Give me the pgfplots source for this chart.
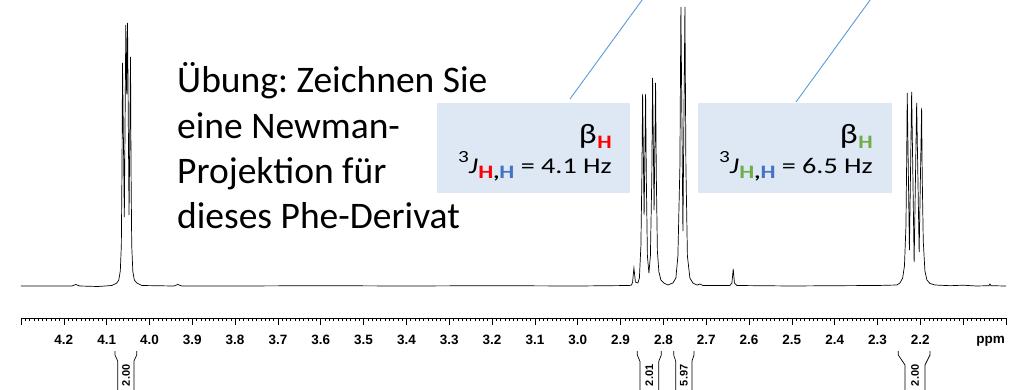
\documentclass[border=0pt]{standalone}
\usepackage{pgfplots}
\pgfplotsset{compat=1.18}
\usepackage{fontspec}
\setmainfont{Carlito}
\newfontfamily\tickfont{Liberation Sans}
\definecolor{boxfill}{RGB}{221,232,244}
\definecolor{lineblue}{RGB}{91,155,213}
\definecolor{hred}{RGB}{255,0,0}
\definecolor{hblue}{RGB}{68,114,196}
\definecolor{hgreen}{RGB}{112,173,71}
\frenchspacing
\newcommand{\sub}[1]{\raisebox{-5.5pt}{\fontsize{19}{20}\selectfont\bfseries #1}}
\begin{document}
\begin{tikzpicture}
\useasboundingbox (0,0) rectangle (1020pt,389pt);
% annotation boxes (behind spectrum)
\begin{scope}[x=1pt,y=-1pt,shift={(0pt,389pt)}]
\fill[boxfill] (437,103) rectangle (630,193);
\fill[boxfill] (698,103) rectangle (892,193);
\end{scope}
\begin{axis}[
  at={(21pt,71pt)}, anchor=south west,
  scale only axis, width=985pt, height=318pt,
  x dir=reverse, xmin=2.0, xmax=4.3, ymin=-32, ymax=286,
  axis x line=bottom, axis y line=none,
  axis line style={-, black, line width=0.8pt},
  xtick={4.3,4.2,4.1,4.0,3.9,3.8,3.7,3.6,3.5,3.4,3.3,3.2,3.1,3.0,2.9,2.8,2.7,2.6,2.5,2.4,2.3,2.2,2.1,2.0},
  xticklabels={,4.2,4.1,4.0,3.9,3.8,3.7,3.6,3.5,3.4,3.3,3.2,3.1,3.0,2.9,2.8,2.7,2.6,2.5,2.4,2.3,2.2,,},
  minor x tick num=9,
  tick align=outside, major tick length=7pt, minor tick length=3pt,
  every tick/.style={black, line width=0.6pt},
  xticklabel style={font=\tickfont\bfseries\fontsize{13.5}{15}\selectfont, anchor=north, yshift=-7pt},
  clip=false,
]
\addplot[black, line width=0.7pt, sharp plot] coordinates {
(4.300,0) (4.1813,0) (4.1720,1.5) (4.1626,0) (4.1200,-0.5) (4.0879,0.5)
(4.0762,3) (4.0716,6) (4.0681,15) (4.0657,40) (4.0641,120) (4.0629,223)
(4.0587,69) (4.0552,261) (4.0533,192) (4.0512,263) (4.0477,71) (4.0442,229)
(4.0431,120) (4.0414,40) (4.0389,15) (4.0354,6) (4.0295,3) (4.0178,0.5)
(3.9431,0) (3.9338,1.5) (3.9244,0) (3.8000,0) (3.6000,0.3) (3.4000,0) (3.2000,0.3) (3.0000,0)
(2.8800,0.5) (2.8742,1) (2.8719,4) (2.8688,18) (2.8653,4) (2.8595,3)
(2.8560,8) (2.8525,40) (2.8502,110) (2.8485,192) (2.8450,71) (2.8415,192)
(2.8399,110) (2.8373,30) (2.8338,13) (2.8303,30) (2.8270,110) (2.8252,208)
(2.8217,76) (2.8182,203) (2.8165,110) (2.8140,35) (2.8105,14) (2.8058,6)
(2.7988,3) (2.7894,1) (2.7778,3) (2.7708,8) (2.7661,30) (2.7614,120)
(2.7591,279) (2.7544,55) (2.7497,279) (2.7474,120) (2.7439,30) (2.7381,8)
(2.7311,3) (2.7217,1) (2.7147,2) (2.7077,0.5) (2.6447,0.5) (2.6400,3)
(2.6369,17) (2.6341,3) (2.6283,0.5) (2.5000,0) (2.4000,0.3) (2.3000,0.5)
(2.2547,1) (2.2476,3) (2.2413,8) (2.2371,20) (2.2336,60) (2.2318,130)
(2.2306,193) (2.2255,36) (2.2203,194) (2.2145,24) (2.2086,183) (2.2028,34)
(2.1970,178) (2.1956,110) (2.1932,45) (2.1893,15) (2.1846,6) (2.1776,2.5)
(2.1659,1) (2.1300,0.3) (2.1000,0.8) (2.0700,0) (2.0400,0.3) (2.0375,2) (2.0350,0.3) (2.0000,0)
};
\end{axis}
\begin{scope}[x=1pt,y=-1pt,shift={(0pt,389pt)}]
% leader lines
\draw[lineblue, line width=0.9pt] (570,99) -- (645,-4);
\draw[lineblue, line width=0.9pt] (796,102) -- (873,-4);
% ppm label
\node[anchor=base east, inner sep=0, font=\tickfont\bfseries\fontsize{13.5}{15}\selectfont] at (1005,343) {ppm};
% main text
\begin{scope}[every node/.style={anchor=base west, inner sep=0, font=\fontsize{37.5}{42}\selectfont}]
\node at (177,92.7) {Übung: Zeichnen Sie};
\node at (177,138) {eine Newman-};
\node at (177,183) {Projektion für};
\node at (177,228) {dieses Phe-Derivat};
\end{scope}
% box texts (horizontally stretched as in the reference)
\begin{scope}[every node/.style={anchor=base east, inner sep=0, font=\fontsize{22.5}{26}\selectfont}]
\node at (612,143) {\scalebox{1.2}[1]{{\fontsize{28}{30}\selectfont β}\kern0.5pt\sub{\textcolor{hred}{H}}}};
\node at (612,173) {\scalebox{1.25}[1]{\raisebox{10.5pt}{\fontsize{17}{20}\selectfont 3}\textit{J}\kern0.5pt\sub{\textcolor{hred}{H},\textcolor{hblue}{H}} = 4.1 Hz}};
\node at (873,143) {\scalebox{1.2}[1]{{\fontsize{28}{30}\selectfont β}\kern0.5pt\sub{\textcolor{hgreen}{H}}}};
\node at (873,173) {\scalebox{1.25}[1]{\raisebox{10.5pt}{\fontsize{17}{20}\selectfont 3}\textit{J}\kern0.5pt\sub{\textcolor{hgreen}{H},\textcolor{hblue}{H}} = 6.5 Hz}};
\end{scope}
% integration brackets
\begin{scope}[black, line width=0.7pt]
\draw (115,351) -- (115,355) -- (117.7,361) -- (117.7,395);
\draw (136.7,351) -- (136.7,355) -- (134,361) -- (134,395);
\draw (637.3,351) -- (637.3,355) -- (640,361.5) -- (640,395);
\draw (661.3,351) -- (661.3,355) -- (658.7,361.5) -- (658.7,395);
\draw (673.7,351) -- (673.7,355) -- (675.7,361) -- (675.7,395);
\draw (694,351) -- (694,355) -- (692,361) -- (692,395);
\draw (898.3,351) -- (898.3,355) -- (905,365) -- (905,395);
\draw (930,351) -- (930,355) -- (925,365) -- (925,395);
\end{scope}
\begin{scope}[every node/.style={anchor=east, rotate=90, inner sep=0, font=\tickfont\bfseries\fontsize{11}{13}\selectfont}]
\node at (126,364.5) {2.00};
\node at (649.3,364.5) {2.01};
\node at (683.8,364.5) {5.97};
\node at (915,364.5) {2.00};
\end{scope}
\end{scope}
\end{tikzpicture}
\end{document}
